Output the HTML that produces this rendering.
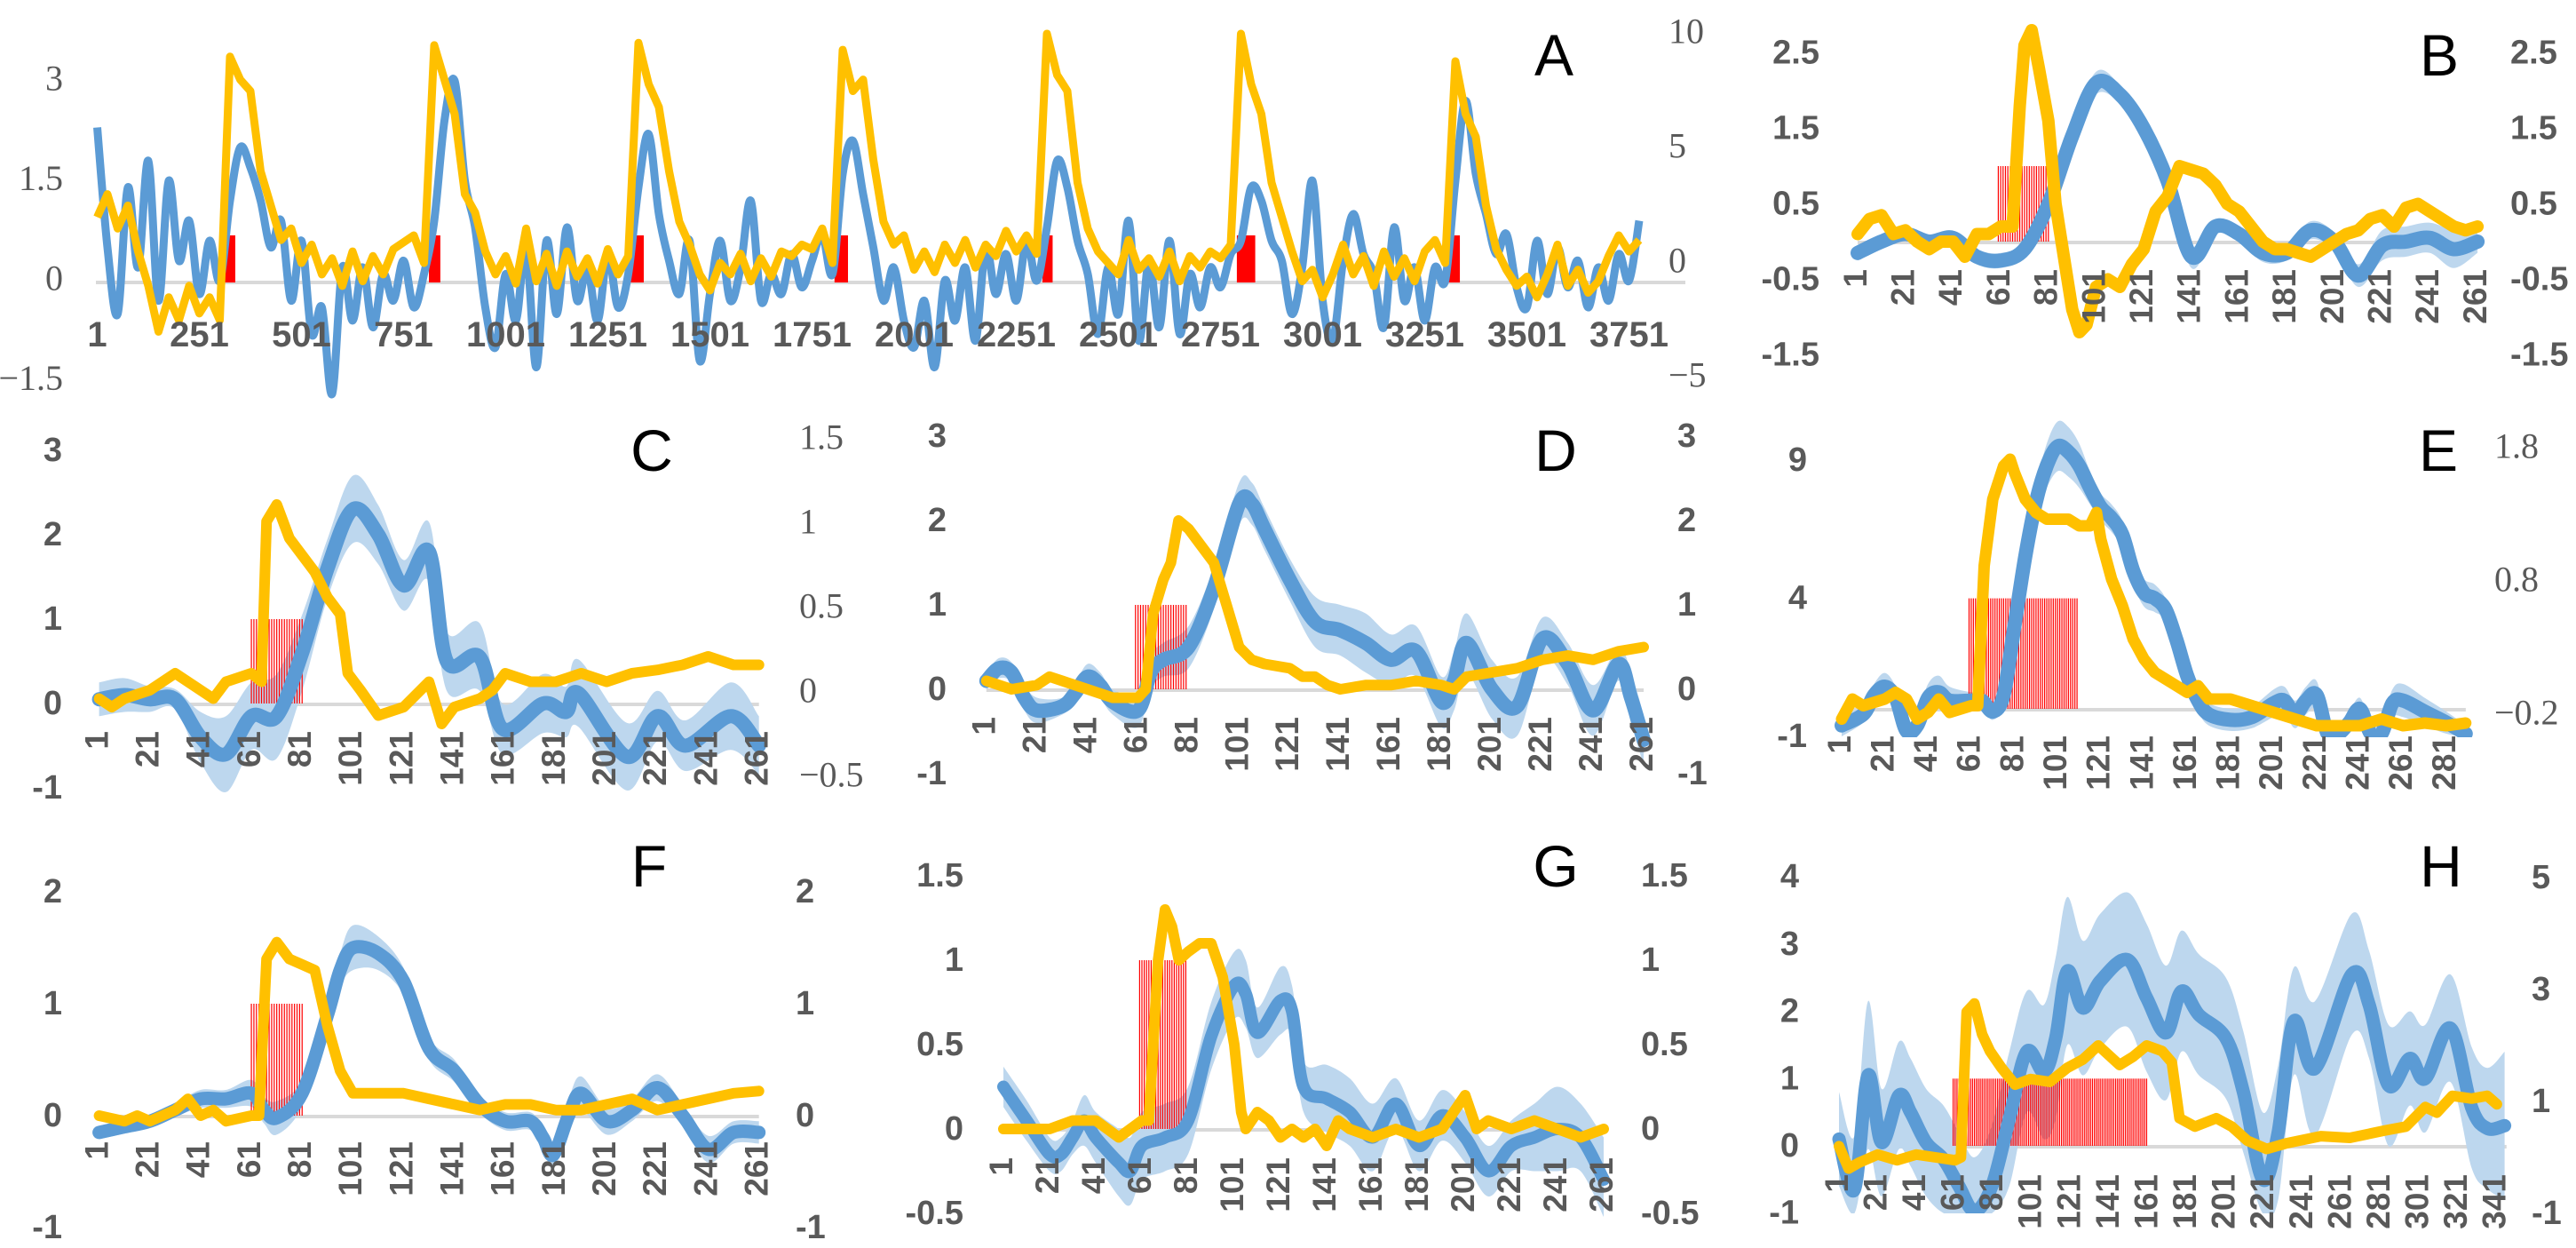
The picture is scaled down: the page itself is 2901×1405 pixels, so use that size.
<!DOCTYPE html>
<html><head><meta charset="utf-8">
<style>
html,body{margin:0;padding:0;background:#fff;}
svg{display:block;}
.tk{font-family:"Liberation Sans",sans-serif;font-weight:bold;fill:#595959;}
.sf{font-family:"Liberation Serif",serif;fill:#595959;}
.lt{font-family:"Liberation Sans",sans-serif;fill:#000;}
</style></head>
<body>
<svg id="fig" width="2901" height="1405" viewBox="0 0 2901 1405" xmlns="http://www.w3.org/2000/svg"></svg>
<script>
// ---------- DATA ----------
// Panel A (step 25 from x=1)
const aBlue=[2.3,0.5,-0.5,1.4,0.2,1.8,-0.3,1.5,0.3,0.9,-0.2,0.6,0.0,1.2,2.0,1.7,1.2,0.5,0.9,-0.3,0.6,-0.8,-0.4,-1.7,0.2,-0.6,0.2,-0.7,0.1,-0.3,0.3,-0.4,0.1,0.9,2.4,3.0,1.5,0.8,-0.4,-1.0,0.1,-0.6,0.5,-1.3,0.6,-0.5,0.8,-0.3,0.2,-0.6,0.4,-0.4,0.1,1.4,2.2,1.0,0.3,-0.2,0.6,-1.2,-0.2,0.6,-0.3,0.2,1.2,-0.3,0.1,-0.2,0.4,-0.1,0.3,0.7,0.1,1.6,2.1,1.3,0.5,-0.3,0.2,-0.6,-1.0,-0.3,-1.3,0.0,-0.6,0.2,-0.9,0.5,-0.2,0.4,-0.3,0.6,0.0,0.8,1.8,1.4,0.6,0.1,-0.8,0.2,-0.5,0.9,-0.9,0.3,-0.7,0.6,-0.8,0.1,-0.4,0.2,-0.1,0.4,0.6,1.4,1.2,0.6,0.3,-0.5,0.2,1.5,-0.3,-0.9,0.3,1.0,0.4,0.1,-0.7,0.8,-0.3,0.2,-0.6,0.2,0.0,1.5,2.7,1.6,1.0,0.4,0.7,-0.1,-0.4,0.6,-0.2,0.5,-0.1,0.3,-0.4,0.2,-0.3,0.4,0.0,0.9];
const aYellow=[2.0,3.0,1.5,2.5,0.5,-1.0,-3.0,-1.5,-2.5,-1.0,-2.2,-1.5,-2.5,9.0,8.0,7.5,4.0,2.5,1.0,1.5,0.0,0.8,-0.5,0.2,-1.0,0.5,-0.8,0.3,-0.5,0.6,0.9,1.2,0.0,9.5,8.0,6.5,3.0,2.2,0.5,-0.5,0.3,-0.9,1.5,-0.8,0.4,-1.0,0.5,-0.6,0.2,-0.9,0.6,-0.5,0.3,9.6,7.8,6.8,4.0,1.8,0.8,-0.5,-1.2,0.0,-0.5,0.4,-0.8,0.2,-0.6,0.5,0.3,0.8,0.6,1.5,0.0,9.3,7.5,8.0,4.5,1.8,0.8,1.2,-0.3,0.5,-0.4,0.8,0.0,1.0,-0.2,0.8,0.3,1.4,0.5,1.2,0.4,10.0,8.2,7.5,3.5,1.5,0.5,0.0,-0.5,1.0,-0.3,0.2,-0.6,0.5,-0.8,0.3,-0.2,0.5,0.2,0.8,10.0,7.8,6.5,3.5,2.0,0.5,-0.8,-0.3,-1.5,-0.5,0.8,-0.5,0.3,-1.0,0.5,-0.6,0.2,-0.8,0.5,1.0,0.0,8.8,6.5,5.5,2.5,0.6,-0.3,-1.0,-0.6,-1.5,-0.5,0.8,-1.0,-0.3,-1.3,-0.8,0.3,1.2,0.5,1.0];
const aStimStart=[304,813,1306,1806,2315,2791,3302];
const aStimWidth=[35,28,33,33,25,45,35];
const aStimLevel=0.68;
const aTicks=[1,251,501,751,1001,1251,1501,1751,2001,2251,2501,2751,3001,3251,3501,3751];
const aLeftTicks=[3,1.5,0,-1.5];
const aRightTicks=[10,5,0,-5];

// Panel B
const bBlue=[[1,-0.15,0.1],[11,0.0,0.1],[21,0.1,0.08],[31,0.0,0.08],[41,0.05,0.08],[51,-0.2,0.1],[61,-0.25,0.1],[71,-0.1,0.1],[81,0.5,0.12],[91,1.4,0.12],[101,2.1,0.15],[111,1.95,0.12],[121,1.5,0.1],[131,0.8,0.1],[141,-0.2,0.15],[151,0.2,0.1],[161,0.1,0.1],[171,-0.15,0.12],[181,-0.15,0.1],[191,0.15,0.12],[201,0.0,0.12],[211,-0.45,0.15],[221,-0.05,0.2],[231,0.0,0.2],[241,0.05,0.2],[251,-0.1,0.25],[261,0.0,0.15]];
const bYellow=[[1,0.1],[6,0.3],[11,0.35],[16,0.1],[21,0.15],[26,0.0],[31,-0.1],[36,0.0],[41,0.0],[46,-0.2],[51,0.1],[56,0.1],[61,0.2],[66,0.2],[69,1.8],[71,2.6],[74,2.8],[77,2.3],[81,1.6],[84,0.5],[88,-0.3],[91,-0.9],[94,-1.2],[97,-1.1],[101,-0.6],[106,-0.5],[111,-0.6],[116,-0.3],[121,-0.1],[126,0.4],[131,0.6],[136,1.0],[141,0.95],[146,0.9],[151,0.75],[156,0.5],[161,0.4],[166,0.2],[171,0.0],[176,-0.1],[181,-0.1],[186,-0.15],[191,-0.2],[196,-0.1],[201,0.0],[206,0.1],[211,0.15],[216,0.3],[221,0.35],[226,0.2],[231,0.45],[236,0.5],[241,0.4],[246,0.3],[251,0.2],[256,0.15],[261,0.2]];
const bStim=[60,81,1];
const bLeftTicks=[2.5,1.5,0.5,-0.5,-1.5];
const bRightTicks=[2.5,1.5,0.5,-0.5,-1.5];

// Panel C
const cBlue=[[1,0.05,0.2],[11,0.1,0.2],[21,0.05,0.15],[31,0.05,0.12],[41,-0.4,0.3],[51,-0.6,0.45],[61,-0.15,0.4],[71,-0.15,0.5],[81,0.6,0.45],[91,1.6,0.35],[101,2.3,0.4],[111,2.0,0.35],[121,1.4,0.3],[131,1.8,0.35],[138,0.5,0.35],[151,0.55,0.4],[160,-0.3,0.3],[176,0.0,0.35],[185,-0.1,0.3],[190,0.12,0.4],[209,-0.63,0.4],[221,-0.15,0.3],[232,-0.5,0.3],[250,-0.15,0.4],[261,-0.5,0.35]];
const cYellow=[[1,-0.05],[6,-0.1],[11,-0.05],[21,0.0],[31,0.1],[41,0.0],[46,-0.05],[51,0.05],[61,0.1],[65,0.05],[67,1.0],[71,1.1],[76,0.9],[81,0.8],[86,0.7],[91,0.55],[96,0.45],[99,0.1],[104,0.0],[111,-0.15],[121,-0.1],[131,0.05],[136,-0.2],[141,-0.1],[151,-0.05],[156,0.0],[161,0.1],[171,0.05],[181,0.05],[191,0.1],[201,0.05],[211,0.1],[221,0.12],[231,0.15],[241,0.2],[251,0.15],[261,0.15]];
const cStim=[61,81,1];
const cLeftTicks=[3,2,1,0,-1];
const cRightTicks=[1.5,1,0.5,0,-0.5];

// Panel D
const dBlue=[[1,0.1,0.1],[6,0.25,0.12],[11,0.2,0.12],[16,-0.1,0.15],[21,-0.25,0.15],[31,-0.2,0.1],[36,-0.05,0.12],[41,0.15,0.15],[46,0.05,0.15],[51,-0.15,0.15],[61,-0.25,0.2],[66,0.2,0.2],[71,0.35,0.2],[81,0.5,0.25],[91,1.2,0.25],[101,2.2,0.25],[106,2.2,0.25],[111,1.9,0.25],[121,1.3,0.25],[131,0.8,0.3],[141,0.7,0.3],[151,0.55,0.35],[161,0.35,0.3],[171,0.45,0.3],[181,-0.15,0.3],[186,0.1,0.35],[191,0.55,0.35],[201,0.0,0.35],[211,-0.2,0.35],[221,0.6,0.25],[231,0.3,0.25],[241,-0.25,0.3],[251,0.3,0.2],[256,-0.1,0.3],[261,-0.6,0.3]];
const dYellow=[[1,0.1],[11,0.0],[21,0.05],[26,0.15],[31,0.1],[41,0.0],[51,-0.1],[61,-0.1],[64,0.0],[67,0.9],[71,1.3],[74,1.5],[77,2.0],[81,1.9],[86,1.7],[91,1.5],[96,1.0],[101,0.5],[106,0.35],[111,0.3],[121,0.25],[126,0.15],[131,0.15],[136,0.05],[141,0.0],[151,0.05],[161,0.05],[171,0.1],[181,0.05],[186,0.0],[191,0.15],[201,0.2],[211,0.25],[221,0.35],[231,0.4],[241,0.35],[251,0.45],[261,0.5]];
const dStim=[60,80,1];
const dLeftTicks=[3,2,1,0,-1];
const dRightTicks=[3,2,1,0,-1];

// Panel E
const eBlue=[[1,-0.6,0.4],[11,-0.2,0.3],[16,0.5,0.4],[21,0.8,0.5],[26,0.4,0.4],[31,-0.8,0.4],[36,-0.6,0.4],[41,0.4,0.5],[46,0.6,0.6],[51,0.3,0.5],[61,0.3,0.3],[66,0.3,0.3],[71,-0.1,0.3],[76,0.5,0.3],[81,3.0,0.4],[86,5.5,0.5],[91,7.5,0.6],[96,8.8,0.8],[101,9.5,0.9],[106,9.3,0.9],[111,8.8,0.8],[116,8.0,0.6],[121,7.3,0.5],[126,6.9,0.5],[131,6.3,0.5],[136,5.0,0.5],[141,4.2,0.5],[146,4.0,0.5],[151,3.6,0.4],[156,2.5,0.4],[161,1.2,0.4],[166,0.3,0.4],[171,-0.2,0.4],[181,-0.4,0.4],[191,-0.3,0.4],[201,0.2,0.5],[206,0.3,0.5],[211,-0.2,0.5],[216,0.3,0.5],[221,0.5,0.5],[226,-0.9,0.4],[231,-0.9,0.4],[236,-0.5,0.4],[241,0.0,0.4],[246,-0.9,0.4],[251,-0.9,0.4],[256,0.2,0.5],[261,0.3,0.6],[271,-0.1,0.5],[281,-0.5,0.4],[290,-0.9,0.3]];
const eYellow=[[1,-0.25],[6,-0.1],[11,-0.15],[21,-0.1],[26,-0.05],[31,-0.1],[36,-0.25],[41,-0.2],[46,-0.1],[51,-0.2],[61,-0.15],[64,-0.15],[67,0.9],[71,1.4],[76,1.65],[79,1.7],[81,1.6],[86,1.4],[91,1.3],[96,1.25],[101,1.25],[106,1.25],[111,1.2],[116,1.2],[119,1.3],[121,1.1],[126,0.8],[131,0.6],[136,0.35],[141,0.2],[146,0.1],[151,0.05],[156,0.0],[161,-0.05],[166,0.0],[171,-0.1],[181,-0.1],[191,-0.15],[201,-0.2],[211,-0.25],[221,-0.3],[231,-0.3],[241,-0.3],[251,-0.25],[261,-0.3],[271,-0.28],[281,-0.3],[290,-0.28]];
const eStim=[60,110,4];
const eLeftTicks=[9,4,-1];
const eRightTicks=[1.8,0.8,-0.2];

// Panel F
const fBlue=[[1,-0.15,0.06],[11,-0.1,0.06],[21,-0.05,0.06],[31,0.05,0.06],[41,0.15,0.08],[51,0.15,0.08],[61,0.2,0.12],[66,0.05,0.12],[71,-0.02,0.15],[81,0.2,0.12],[91,0.9,0.12],[96,1.3,0.15],[101,1.5,0.2],[111,1.45,0.15],[121,1.2,0.12],[131,0.6,0.1],[141,0.4,0.1],[151,0.1,0.08],[161,-0.05,0.08],[171,-0.05,0.08],[176,-0.2,0.1],[180,-0.35,0.12],[186,0.0,0.15],[191,0.2,0.15],[201,-0.05,0.12],[211,0.05,0.1],[221,0.25,0.12],[231,0.0,0.1],[241,-0.3,0.12],[251,-0.15,0.1],[261,-0.15,0.1]];
const fYellow=[[1,0.0],[11,-0.05],[16,0.0],[21,-0.05],[31,0.05],[36,0.15],[41,0.0],[46,0.05],[51,-0.05],[61,0.0],[64,0.0],[67,1.4],[71,1.55],[76,1.4],[81,1.35],[86,1.3],[91,0.8],[96,0.4],[101,0.2],[111,0.2],[121,0.2],[131,0.15],[141,0.1],[151,0.05],[161,0.1],[171,0.1],[181,0.05],[191,0.05],[201,0.1],[211,0.15],[221,0.05],[231,0.1],[241,0.15],[251,0.2],[261,0.22]];
const fStim=[61,81,1];
const fLeftTicks=[2,1,0,-1];
const fRightTicks=[2,1,0,-1];

// Panel G
const gBlue=[[1,0.25,0.12],[11,0.05,0.12],[21,-0.15,0.1],[26,-0.15,0.1],[31,-0.05,0.1],[36,0.05,0.15],[41,-0.05,0.15],[51,-0.2,0.2],[56,-0.25,0.2],[61,-0.1,0.2],[71,-0.05,0.2],[81,0.05,0.2],[91,0.55,0.2],[101,0.85,0.2],[106,0.8,0.2],[111,0.57,0.15],[121,0.76,0.2],[126,0.7,0.15],[131,0.25,0.15],[141,0.18,0.2],[151,0.1,0.2],[161,-0.05,0.2],[171,0.15,0.15],[181,-0.1,0.15],[191,0.08,0.15],[201,-0.05,0.15],[211,-0.25,0.15],[221,-0.1,0.15],[231,-0.05,0.2],[241,0.0,0.25],[251,-0.05,0.2],[261,-0.3,0.25]];
const gYellow=[[1,0.0],[11,0.0],[21,0.0],[31,0.05],[41,0.05],[51,-0.05],[61,0.05],[64,0.05],[68,1.0],[71,1.3],[74,1.2],[77,1.0],[81,1.05],[86,1.1],[91,1.1],[96,0.9],[101,0.5],[104,0.1],[106,0.0],[111,0.1],[116,0.05],[121,-0.05],[126,0.0],[131,-0.05],[136,0.0],[141,-0.1],[146,0.05],[151,0.0],[161,-0.05],[171,0.0],[181,-0.05],[191,0.0],[201,0.2],[206,0.0],[211,0.05],[221,0.0],[231,0.05],[241,0.0],[251,-0.05],[261,0.0]];
const gStim=[60,80,1];
const gLeftTicks=[1.5,1,0.5,0,-0.5];
const gRightTicks=[1.5,1,0.5,0,-0.5];

// Panel H
const hBlue=[[1,0.1,0.7],[9,-0.65,0.8],[16,1.05,1.1],[23,0.05,0.8],[32,0.75,0.8],[38,0.5,0.8],[46,0.05,0.8],[55,-0.2,0.8],[63,-0.6,0.8],[71,-0.97,0.8],[80,-0.6,0.9],[89,0.4,1.0],[98,1.4,0.9],[107,1.1,1.0],[113,1.6,1.2],[119,2.6,1.1],[127,2.05,1.0],[136,2.45,1.0],[150,2.77,1.0],[160,2.2,1.1],[170,1.68,1.0],[178,2.3,0.9],[187,1.95,0.9],[201,1.6,0.9],[210,0.8,0.9],[220,-0.5,1.0],[228,0.2,1.0],[236,1.85,0.8],[247,1.15,1.0],[266,2.55,0.9],[275,2.1,0.8],[285,0.9,0.9],[296,1.3,0.7],[304,1.0,0.8],[317,1.75,0.8],[328,0.57,0.9],[336,0.26,0.9],[345,0.3,1.1]];
const hYellow=[[1,0.2],[6,-0.2],[11,-0.1],[21,0.05],[31,-0.05],[41,0.05],[51,0.0],[61,-0.05],[64,0.0],[67,2.6],[71,2.75],[75,2.2],[79,1.9],[85,1.6],[92,1.3],[100,1.4],[110,1.35],[119,1.6],[127,1.75],[135,2.0],[146,1.65],[153,1.8],[160,2.0],[168,1.9],[173,1.7],[177,0.7],[185,0.55],[196,0.7],[204,0.55],[212,0.3],[222,0.15],[232,0.25],[250,0.38],[265,0.35],[283,0.48],[294,0.55],[304,0.9],[310,0.8],[318,1.1],[328,1.05],[336,1.1],[341,0.95]];
const hStim=[60,160,1];
const hLeftTicks=[4,3,2,1,0,-1];
const hRightTicks=[5,3,1,-1];

// ---------- RENDER ----------
const NS='http://www.w3.org/2000/svg';
const svg=document.getElementById('fig');
function mk(tag,attrs,parent){const e=document.createElementNS(NS,tag);for(const k in attrs)e.setAttribute(k,attrs[k]);(parent||svg).appendChild(e);return e;}
function sx(p,x){return p.x0+(x-1)*p.xu;}
function syL(p,v){return p.yl0-v*p.ylu;}
function syR(p,v){return p.yr0-v*p.yru;}
function smooth(pts){let d='M'+pts[0][0].toFixed(1)+','+pts[0][1].toFixed(1);
 for(let i=0;i<pts.length-1;i++){const p0=pts[Math.max(0,i-1)],p1=pts[i],p2=pts[i+1],p3=pts[Math.min(pts.length-1,i+2)];
  const c1x=p1[0]+(p2[0]-p0[0])/6,c1y=p1[1]+(p2[1]-p0[1])/6,c2x=p2[0]-(p3[0]-p1[0])/6,c2y=p2[1]-(p3[1]-p1[1])/6;
  d+=' C'+c1x.toFixed(1)+','+c1y.toFixed(1)+' '+c2x.toFixed(1)+','+c2y.toFixed(1)+' '+p2[0].toFixed(1)+','+p2[1].toFixed(1);}
 return d;}
function poly(pts){return 'M'+pts.map(q=>q[0].toFixed(1)+','+q[1].toFixed(1)).join(' L');}

function drawPanel(id,p,blue,yellow,stim,lt,rt){
 const g=mk('g',{});
 
 
 const clipId='clip'+id;
 const cp=mk('clipPath',{id:clipId},g);
 mk('rect',{x:p.x0-30,y:p.clipTop,width:(p.xmax-1)*p.xu+60,height:p.clipBot-p.clipTop},cp);
 const zl=mk('line',{x1:sx(p,1),x2:sx(p,p.xmax),y1:syL(p,0)+1,y2:syL(p,0)+1,stroke:'#d9d9d9','stroke-width':4},g);
 
 
 const cg=mk('g',{'clip-path':'url(#'+clipId+')'},g);
 const up=blue.map(b=>[sx(p,b[0]),Math.max(p.clipTop,syL(p,b[1]+b[2]))]);
 const lo=blue.map(b=>[sx(p,b[0]),Math.min(p.clipBot,syL(p,b[1]-b[2]))]).reverse();
 const band=mk('path',{d:smooth(up)+' L'+smooth(lo).slice(1)+' Z',fill:'#bdd7ee'},cg);
 
 
 const sg=mk('g',{},g);
 
 
 for(let x=stim[0];x<=stim[1];x++){
  const r=mk('rect',{x:sx(p,x)-0.6,y:syL(p,stim[2]),width:1.2,height:syL(p,0)-syL(p,stim[2]),fill:'#ff0000'},sg);
  
  
 }
 const cg2=mk('g',{'clip-path':'url(#'+clipId+')'},g);
 const bl=mk('path',{d:smooth(blue.map(b=>[sx(p,b[0]),syL(p,b[1])])),fill:'none',stroke:'#5b9bd5','stroke-width':p.bw,'stroke-linejoin':'round','stroke-linecap':'round'},cg2);
 
 
 const yl=mk('path',{d:poly(yellow.map(q=>[sx(p,q[0]),syR(p,q[1])])),fill:'none',stroke:'#ffc000','stroke-width':p.yw,'stroke-linejoin':'round','stroke-linecap':'round'},cg2);
 
 
 for(let x=1;x<=p.xtickMax;x+=20){
  const t=mk('text',{class:'tk','font-size':37,'text-anchor':'end','dominant-baseline':'middle',transform:'translate('+sx(p,x).toFixed(1)+','+p.tickTop+') rotate(-90)'},g);
  t.textContent=String(x);
  
  
 }
 for(const v of lt){
  const t=mk('text',{class:p.lserif?'sf':'tk','font-size':p.lserif?40:38,'text-anchor':'end','dominant-baseline':'central',x:p.lx,y:syL(p,v)},g);
  t.textContent=String(v);
  
  
 }
 for(const v of rt){
  const t=mk('text',{class:p.rserif?'sf':'tk','font-size':p.rserif?40:38,'text-anchor':'start','dominant-baseline':'central',x:p.rx,y:syR(p,v)},g);
  t.textContent=(p.rserif&&v<0)?'\u2212'+String(-v):String(v);
  
  
 }
 const L=mk('text',{class:'lt','font-size':66,'text-anchor':'middle','dominant-baseline':'central',x:p.letX,y:p.letY},g);
 L.textContent=id;
 
 
}

const P={
 B:{x0:2092,xu:2.685,yl0:272,ylu:85,yr0:272,yru:85,xmax:261,xtickMax:261,tickTop:303,lx:2049,rx:2827,letX:2747,letY:62,bw:16,yw:14,clipTop:0,clipBot:420},
 C:{x0:111.6,xu:2.858,yl0:792,ylu:95,yr0:777,yru:190,xmax:261,xtickMax:261,tickTop:823,lx:70,rx:900,rserif:true,letX:734,letY:507,bw:16,yw:12,clipTop:470,clipBot:900},
 D:{x0:1110.8,xu:2.847,yl0:776,ylu:95,yr0:776,yru:95,xmax:261,xtickMax:261,tickTop:807,lx:1066,rx:1889,letX:1752,letY:507,bw:16,yw:12,clipTop:470,clipBot:890},
 E:{x0:2074,xu:2.432,yl0:798,ylu:31.1,yr0:772,yru:150,xmax:290,xtickMax:281,tickTop:828,lx:2035,rx:2809,rserif:true,letX:2746,letY:507,bw:16,yw:13,clipTop:470,clipBot:830},
 F:{x0:111.6,xu:2.858,yl0:1256,ylu:126,yr0:1256,yru:126,xmax:261,xtickMax:261,tickTop:1285,lx:70,rx:896,letX:731,letY:975,bw:15,yw:12,clipTop:935,clipBot:1390},
 G:{x0:1130,xu:2.6,yl0:1271,ylu:190,yr0:1271,yru:190,xmax:261,xtickMax:261,tickTop:1303,lx:1085,rx:1848,letX:1752,letY:975,bw:14,yw:12,clipTop:935,clipBot:1370},
 H:{x0:2071,xu:2.179,yl0:1290,ylu:75.7,yr0:1303,yru:63,xmax:346,xtickMax:341,tickTop:1322,lx:2026,rx:2851,letX:2749,letY:975,bw:15,yw:12,clipTop:935,clipBot:1366}
};
drawPanel('B',P.B,bBlue,bYellow,bStim,bLeftTicks,bRightTicks);
drawPanel('C',P.C,cBlue,cYellow,cStim,cLeftTicks,cRightTicks);
drawPanel('D',P.D,dBlue,dYellow,dStim,dLeftTicks,dRightTicks);
drawPanel('E',P.E,eBlue,eYellow,eStim,eLeftTicks,eRightTicks);
drawPanel('F',P.F,fBlue,fYellow,fStim,fLeftTicks,fRightTicks);
drawPanel('G',P.G,gBlue,gYellow,gStim,gLeftTicks,gRightTicks);
drawPanel('H',P.H,hBlue,hYellow,hStim,hLeftTicks,hRightTicks);

// Panel A
(function(){
 const p={x0:109.5,xu:0.46,yl0:316,ylu:75,yr0:296,yru:25.8};
 const step=25;
 const g=mk('g',{});
 
 
 const zl=mk('line',{x1:108,x2:1898,y1:318,y2:318,stroke:'#d9d9d9','stroke-width':4},g);
 
 
 for(let i=0;i<aStimStart.length;i++){
  const r=mk('rect',{x:sx(p,aStimStart[i]),y:syL(p,aStimLevel),width:aStimWidth[i]*p.xu,height:syL(p,0)-syL(p,aStimLevel)+2,fill:'#ff0000'},g);
  
  
 }
 const bl=mk('path',{d:smooth(aBlue.map((v,i)=>[sx(p,1+i*step),syL(p,v)])),fill:'none',stroke:'#5b9bd5','stroke-width':9,'stroke-linejoin':'round'},g);
 
 
 const yl=mk('path',{d:poly(aYellow.map((v,i)=>[sx(p,1+i*step),syR(p,v)])),fill:'none',stroke:'#ffc000','stroke-width':9,'stroke-linejoin':'round'},g);
 
 
 for(const x of aTicks){
  const t=mk('text',{class:'tk','font-size':40,'text-anchor':'middle','dominant-baseline':'central',x:sx(p,x),y:377},g);
  t.textContent=String(x);
  
  
 }
 for(const v of aLeftTicks){
  const t=mk('text',{class:'sf','font-size':40,'text-anchor':'end','dominant-baseline':'central',x:71,y:syL(p,v)-3},g);
  t.textContent=v<0?'\u2212'+String(-v):String(v);
  
  
 }
 for(const v of aRightTicks){
  const t=mk('text',{class:'sf','font-size':40,'text-anchor':'start','dominant-baseline':'central',x:1879,y:syR(p,v)-3},g);
  t.textContent=v<0?'\u2212'+String(-v):String(v);
  
  
 }
 const L=mk('text',{class:'lt','font-size':66,'text-anchor':'middle','dominant-baseline':'central',x:1750,y:62},g);
 L.textContent='A';
 
 
})();
</script>
</body></html>
